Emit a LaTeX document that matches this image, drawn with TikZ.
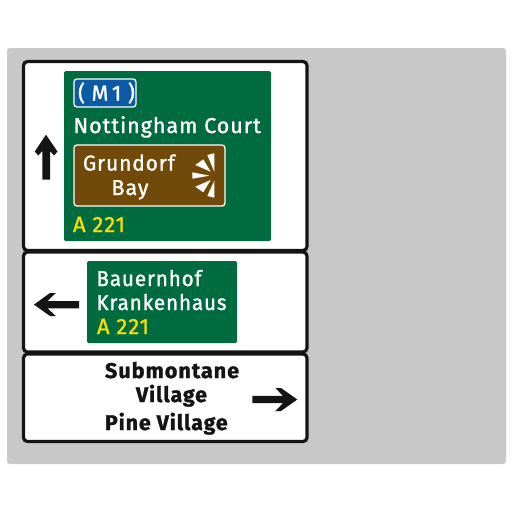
\documentclass[tikz,border=0pt]{standalone}
\usepackage{fontspec}
\setmainfont{Fira Sans}[LetterSpace=4.5,FakeBold=1.3]
\definecolor{panelgray}{HTML}{C8C8C8}
\definecolor{signgreen}{HTML}{006B3F}
\definecolor{signblue}{HTML}{0B5AA6}
\definecolor{signbrown}{HTML}{714A09}
\definecolor{signyellow}{HTML}{F7DF00}
\definecolor{ink}{HTML}{141414}
\tikzset{
  board/.style={draw=ink,line width=3.2pt,fill=white,rounded corners=4pt},
  patch/.style={rounded corners=1.5pt},
  plate/.style={draw=white,line width=1.3pt,rounded corners=3pt},
  lbl/.style={anchor=base west,inner sep=0pt,outer sep=0pt},
  whitetxt/.style={lbl,text=white,font=\fontsize{21.5}{24}\selectfont},
  yellowtxt/.style={lbl,text=signyellow,font=\fontsize{22}{24}\selectfont},
  blacktxt/.style={lbl,text=ink,font=\fontsize{21.3}{24}\selectfont\bfseries},
  narrowtxt/.style={transform shape,xscale=0.955},
  arrowshape/.style={fill=ink},
  ray/.style={fill=white}
}
\begin{document}
\begin{tikzpicture}[x=1pt,y=-1pt]
\useasboundingbox (0,0) rectangle (512,512);
\fill[panelgray,rounded corners=3pt] (7,48) rectangle (506,464);
\draw[board] (23.5,61.5) rectangle (307,250.5);
\draw[board] (23.5,252) rectangle (307,352);
\draw[board] (23.5,354) rectangle (307,441.5);
% first panel
\fill[signgreen,patch] (64,71) rectangle (271,241);
\draw[fill=signblue,plate] (74,79) rectangle (136,107);
\node[whitetxt] (m) at (78,100.5) {( M\,1 )};
\node[whitetxt] (nc) at (73.5,133) {Nottingham Court};
\draw[fill=signbrown,plate] (74,145) rectangle (225,206);
\node[whitetxt,transform shape,xscale=0.97] (gr) at (83,170.5) {Grundorf};
\node[whitetxt] (ba) at (111.5,195) {Bay};
\fill[ray] (207.3,155) -- (214.3,153.3) -- (214.3,171.7) -- cycle;
\fill[ray] (195.3,165) -- (203.3,159.3) -- (210.7,171.7) -- cycle;
\fill[ray] (192.3,172.3) -- (192.3,178.7) -- (209.3,175.7) -- cycle;
\fill[ray] (195.3,186.7) -- (203.3,192.3) -- (210.7,180) -- cycle;
\fill[ray] (207.3,196) -- (214.3,197.7) -- (214.3,180.7) -- cycle;
\node[yellowtxt] (a1) at (73,232) {A 221};
\fill[arrowshape] (46,134.7) -- (57.5,151.5) -- (54,155.5) -- (50,151) -- (50,179.5) -- (42.3,179.5) -- (42.3,151) -- (38.3,155.5) -- (34.8,151.5) -- cycle;
% second panel
\fill[signgreen,patch] (87,261) rectangle (237,343);
\node[whitetxt,narrowtxt] (b) at (96.5,286) {Bauernhof};
\node[whitetxt,narrowtxt] (k) at (96.5,310) {Krankenhaus};
\node[yellowtxt] (a2) at (97,334) {A 221};
\fill[arrowshape] (34,304.6) -- (50,293) -- (55.8,293) -- (47.5,301) -- (79,301) -- (79,308.3) -- (47.5,308.3) -- (55.8,316) -- (50,316) -- cycle;
% third panel
\node[blacktxt,transform shape,xscale=1.015] (s) at (105,378) {Submontane};
\node[blacktxt] (v) at (136,402) {Village};
\node[blacktxt] (p) at (105,430) {Pine Village};
\fill[arrowshape] (297.3,399.5) -- (281,388) -- (275.3,388) -- (283,395.8) -- (252.3,395.8) -- (252.3,403.2) -- (283,403.2) -- (275.3,411) -- (281,411) -- cycle;
\end{tikzpicture}
\end{document}
